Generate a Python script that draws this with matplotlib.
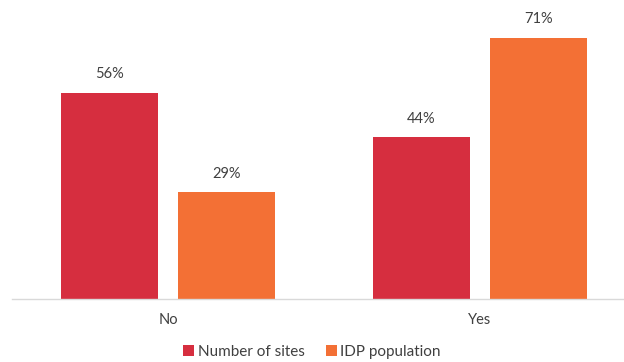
import matplotlib
matplotlib.use("Agg")
import matplotlib.pyplot as plt
import numpy as np

# data
categories = ["No", "Yes"]
series_names = ["Number of sites", "IDP population"]
sites_pct = [56, 44]
idp_pct = [29, 71]
colors = ["#D62E3F", "#F37035"]

plt.rcParams["font.family"] = ["Lato", "DejaVu Sans"]
text_color = "#404040"

fig = plt.figure(figsize=(6.24, 3.62), dpi=100)
ax = fig.add_axes([12 / 624, 63 / 362, 612 / 624, 294 / 362])

x = np.arange(len(categories))
width = 0.31
offset = 0.1875

for vals, name, col, shift in [
    (sites_pct, series_names[0], colors[0], -offset),
    (idp_pct, series_names[1], colors[1], offset),
]:
    bars = ax.bar(x + shift, vals, width, color=col, label=name)
    for b, v in zip(bars, vals):
        ax.text(b.get_x() + b.get_width() / 2, v + 3.2, f"{v}%",
                ha="center", va="bottom", fontsize=10.5, color=text_color)

ax.set_xlim(-0.5, -0.5 + 612 / 312)
ax.set_ylim(0, 80)
ax.set_xticks(x)
ax.set_xticklabels(categories, fontsize=10.5, color=text_color)
ax.tick_params(axis="x", length=0, pad=10)
ax.set_yticks([])
for s in ["top", "right", "left"]:
    ax.spines[s].set_visible(False)
ax.spines["bottom"].set_color("#D9D9D9")
ax.spines["bottom"].set_linewidth(1)

fig.legend(loc="center", bbox_to_anchor=(0.5, 0.028), ncol=2, frameon=False,
           fontsize=11, handlelength=0.7, handleheight=0.7,
           handletextpad=0.25, columnspacing=1.4, labelcolor=text_color)

fig.savefig("out.png", dpi=100)
